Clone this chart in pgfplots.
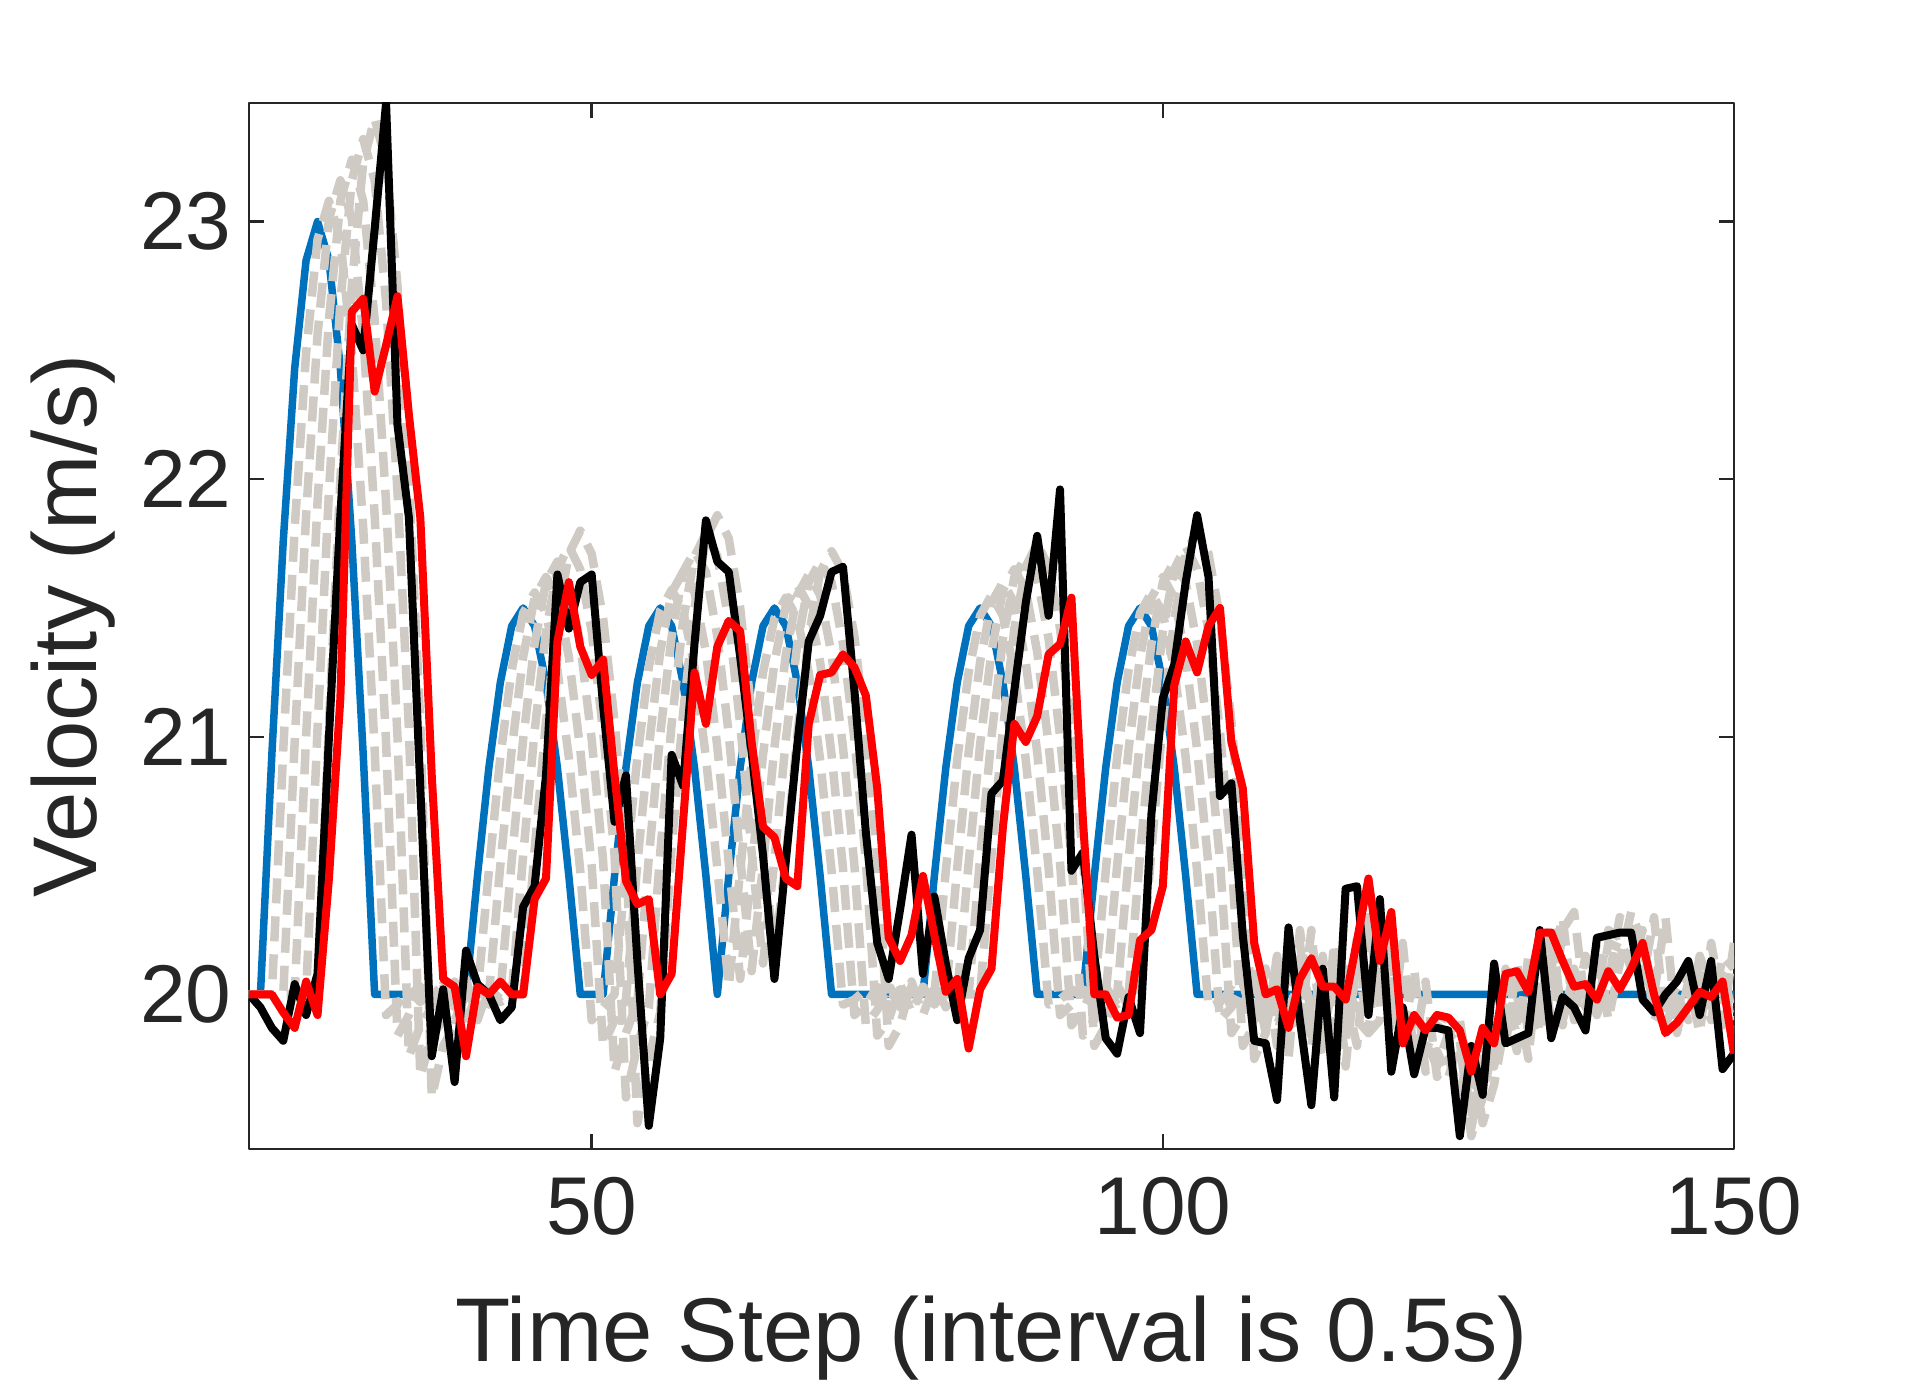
\documentclass[border=0pt]{standalone}
\usepackage{fontspec}
\setmainfont{Liberation Sans}
\usepackage{pgfplots}
\usepackage{pgfplotstable}
\pgfplotsset{compat=1.18}
\definecolor{mblue}{RGB}{0,114,189}
\definecolor{mgrey}{RGB}{207,203,196}
\definecolor{axgray}{RGB}{38,38,38}
\pgfplotstableread{
x bl bk rd g1 g2 g3 g4 g5
20 20.00 20.00 20.00 20.00 20.00 20.00 20.00 20.00
21 20.00 19.95 20.00 20.00 20.00 20.00 20.00 20.00
22 20.93 19.87 20.00 20.00 20.00 20.00 20.00 20.00
23 21.76 19.82 19.93 20.95 20.00 20.00 20.00 20.00
24 22.43 20.04 19.87 21.81 20.98 20.00 20.00 20.00
25 22.85 19.92 20.05 22.49 21.86 21.00 20.00 20.00
26 23.00 20.08 19.92 22.93 22.56 21.91 21.03 20.00
27 22.85 21.00 20.45 23.08 23.01 22.62 21.95 21.05
28 22.43 21.86 21.15 22.93 23.16 23.08 22.69 22.00
29 21.76 22.60 22.65 22.49 23.01 23.24 23.16 22.75
30 20.93 22.50 22.70 21.81 22.56 23.08 23.32 23.23
31 20.00 22.97 22.34 20.95 21.86 22.62 23.16 23.40
32 20.00 23.46 22.52 19.92 20.98 21.91 22.69 23.23
33 20.00 22.21 22.71 19.96 19.84 21.00 21.95 22.75
34 20.00 21.85 22.25 20.02 19.92 19.76 21.03 22.00
35 20.00 20.80 21.85 19.97 20.03 19.88 19.68 21.05
36 20.00 19.76 20.85 20.03 19.96 19.95 19.84 19.60
37 20.00 20.02 20.06 19.98 20.02 20.04 19.90 19.80
38 20.00 19.66 20.03 20.01 19.95 19.90 20.05 19.88
39 20.00 20.17 19.76 19.99 20.01 20.00 19.88 20.06
40 20.46 20.04 20.03 20.00 20.00 20.02 20.02 19.90
41 20.88 20.00 20.00 20.48 20.00 19.98 19.96 20.03
42 21.21 19.90 20.05 20.92 20.50 20.00 20.01 19.97
43 21.43 19.95 20.00 21.26 20.95 20.52 20.00 20.00
44 21.50 20.34 20.00 21.48 21.31 20.99 20.54 20.00
45 21.43 20.42 20.37 21.56 21.54 21.36 21.02 20.56
46 21.21 20.85 20.45 21.48 21.62 21.60 21.41 21.06
47 20.88 21.63 21.37 21.26 21.54 21.68 21.65 21.46
48 20.46 21.42 21.60 20.92 21.31 21.60 21.74 21.71
49 20.00 21.60 21.35 20.48 20.95 21.36 21.65 21.80
50 20.00 21.63 21.24 19.90 20.50 20.99 21.41 21.71
51 20.00 21.12 21.30 19.95 19.80 20.52 21.02 21.46
52 20.46 20.67 20.85 20.00 19.90 19.70 20.54 21.06
53 20.88 20.85 20.44 20.49 19.98 19.85 19.60 20.56
54 21.21 20.13 20.35 20.92 20.51 19.97 19.80 19.50
55 21.43 19.49 20.37 21.27 20.96 20.53 19.95 19.75
56 21.50 19.83 20.00 21.49 21.33 21.01 20.55 19.93
57 21.43 20.93 20.08 21.57 21.56 21.39 21.05 20.57
58 21.21 20.81 20.67 21.49 21.64 21.64 21.45 21.09
59 20.88 21.36 21.25 21.27 21.56 21.72 21.70 21.50
60 20.46 21.84 21.05 20.92 21.33 21.64 21.79 21.77
61 20.00 21.68 21.35 20.49 20.96 21.39 21.70 21.86
62 20.46 21.64 21.45 20.03 20.51 21.01 21.45 21.77
63 20.88 21.31 21.41 20.48 20.06 20.53 21.05 21.50
64 21.21 20.94 20.98 20.91 20.49 20.09 20.55 21.09
65 21.43 20.54 20.65 21.25 20.93 20.50 20.12 20.57
66 21.50 20.06 20.61 21.46 21.29 20.96 20.52 20.15
67 21.43 20.52 20.45 21.54 21.51 21.32 20.99 20.53
68 21.21 20.97 20.42 21.46 21.59 21.55 21.36 21.01
69 20.88 21.37 21.05 21.25 21.51 21.63 21.60 21.39
70 20.46 21.47 21.24 20.91 21.29 21.55 21.68 21.64
71 20.00 21.64 21.25 20.48 20.93 21.32 21.60 21.72
72 20.00 21.66 21.32 19.96 20.49 20.96 21.36 21.64
73 20.00 21.18 21.27 19.98 19.92 20.50 20.99 21.39
74 20.00 20.63 21.16 20.02 19.96 19.88 20.52 21.01
75 20.00 20.20 20.80 19.99 20.03 19.94 19.84 20.53
76 20.00 20.06 20.22 20.03 19.97 20.04 19.90 19.80
77 20.00 20.33 20.13 19.98 20.02 19.95 20.04 19.88
78 20.00 20.62 20.23 20.01 19.98 20.03 19.93 20.05
79 20.00 20.08 20.46 20.00 20.01 19.97 20.03 19.92
80 20.46 20.38 20.23 20.00 20.00 20.02 19.96 20.04
81 20.88 20.12 20.01 20.48 20.00 20.00 20.02 19.95
82 21.21 19.90 20.06 20.91 20.49 20.00 20.00 20.03
83 21.43 20.14 19.79 21.25 20.94 20.51 20.00 20.00
84 21.50 20.25 20.02 21.47 21.29 20.97 20.53 20.00
85 21.43 20.78 20.10 21.55 21.52 21.33 21.00 20.54
86 21.21 20.83 20.65 21.47 21.60 21.57 21.38 21.03
87 20.88 21.18 21.05 21.25 21.52 21.65 21.62 21.42
88 20.46 21.52 20.98 20.91 21.29 21.57 21.70 21.66
89 20.00 21.78 21.08 20.48 20.94 21.33 21.62 21.75
90 20.00 21.47 21.32 19.96 20.49 20.97 21.38 21.66
91 20.00 21.96 21.36 19.98 19.92 20.51 21.00 21.42
92 20.00 20.48 21.54 20.02 19.96 19.88 20.53 21.03
93 20.00 20.55 20.68 19.99 20.02 19.94 19.84 20.54
94 20.46 20.15 20.00 20.00 19.98 20.03 19.90 19.80
95 20.88 19.83 20.00 20.48 20.00 19.98 20.03 19.88
96 21.21 19.77 19.91 20.92 20.50 20.00 19.96 20.04
97 21.43 19.99 19.92 21.26 20.95 20.52 20.00 19.95
98 21.50 19.85 20.21 21.48 21.31 20.99 20.54 20.00
99 21.43 20.70 20.25 21.56 21.54 21.36 21.02 20.56
100 21.21 21.15 20.42 21.48 21.62 21.60 21.41 21.06
101 20.88 21.28 21.20 21.26 21.54 21.68 21.65 21.46
102 20.46 21.60 21.37 20.92 21.31 21.60 21.74 21.71
103 20.00 21.86 21.25 20.48 20.95 21.36 21.65 21.80
104 20.00 21.62 21.43 19.95 20.50 20.99 21.41 21.71
105 20.00 20.77 21.50 19.97 19.90 20.52 21.02 21.46
106 20.00 20.82 20.98 20.02 19.95 19.85 20.54 21.06
107 20.00 20.23 20.80 19.96 20.04 19.92 19.80 20.56
108 20.00 19.82 20.20 20.05 19.90 20.08 19.88 19.75
109 20.00 19.81 20.00 19.93 20.10 19.85 20.10 19.85
110 20.00 19.59 20.02 20.08 19.88 20.15 19.80 20.15
111 20.00 20.26 19.87 19.90 20.02 19.92 20.20 19.75
112 20.00 19.90 20.06 20.12 20.20 19.85 19.95 20.25
113 20.00 19.57 20.14 19.95 19.82 20.25 19.80 19.90
114 20.00 20.10 20.03 19.85 20.00 19.78 20.15 19.75
115 20.00 19.60 20.03 20.05 20.12 20.05 19.75 20.20
116 20.00 20.41 19.98 19.88 19.82 20.00 20.10 19.72
117 20.00 20.42 20.21 20.18 20.22 19.80 19.90 20.15
118 20.00 19.92 20.45 20.20 20.30 20.28 19.85 19.85
119 20.00 20.37 20.13 19.98 19.95 20.15 20.30 19.90
120 20.00 19.70 20.32 20.15 20.25 19.85 20.05 20.25
121 20.00 19.95 19.81 19.86 19.80 20.20 19.80 19.95
122 20.00 19.69 19.92 19.95 19.90 19.75 20.10 19.78
123 20.00 19.87 19.86 19.83 19.78 19.82 19.70 20.05
124 20.00 19.87 19.92 19.92 19.88 19.72 19.78 19.68
125 20.00 19.86 19.91 19.90 19.85 19.85 19.68 19.75
126 20.00 19.45 19.86 19.90 19.83 19.80 19.82 19.62
127 20.00 19.80 19.70 19.62 19.52 19.48 19.45 19.80
128 20.00 19.61 19.87 19.85 19.80 19.70 19.60 19.50
129 20.00 20.12 19.81 19.75 19.72 19.90 19.82 19.65
130 20.00 19.81 20.08 20.05 20.10 19.80 19.95 19.90
131 20.00 19.83 20.09 19.90 19.88 20.12 19.78 20.00
132 20.00 19.85 20.01 19.92 19.90 19.85 20.15 19.75
133 20.00 20.25 20.24 19.95 19.93 19.90 19.85 20.18
134 20.00 19.83 20.24 20.15 20.20 20.28 20.10 19.90
135 20.00 19.99 20.13 19.92 19.90 19.88 20.30 20.25
136 20.00 19.95 20.03 20.02 20.05 20.10 19.90 20.32
137 20.00 19.86 20.04 20.00 20.02 19.95 20.15 19.95
138 20.00 20.22 19.98 19.95 19.92 20.00 19.92 20.20
139 20.00 20.23 20.09 20.12 20.20 20.25 20.05 19.90
140 20.00 20.24 20.02 20.14 20.18 20.22 20.30 20.12
141 20.00 20.24 20.10 20.16 20.20 20.10 20.25 20.32
142 20.00 19.98 20.20 20.12 20.18 20.25 20.05 20.20
143 20.00 19.93 20.00 19.98 19.95 19.90 20.30 20.00
144 20.00 20.00 19.85 19.96 19.95 19.98 19.88 20.30
145 20.00 20.05 19.89 20.03 20.00 19.92 20.00 19.85
146 20.00 20.13 19.95 20.06 20.08 20.12 19.90 20.05
147 20.00 19.92 20.01 20.08 20.10 20.05 20.15 19.85
148 20.00 20.13 19.99 19.98 19.95 19.90 20.02 20.20
149 20.00 19.71 20.05 20.06 20.10 20.15 19.88 19.95
150 20.00 19.77 19.77 19.85 19.90 20.10 20.20 20.15
}\data
\begin{document}
\begin{tikzpicture}
\useasboundingbox (-49.8pt,-46.4pt) rectangle (333.4pt,229.8pt);
\begin{axis}[
  at={(0,0)}, anchor=south west,
  scale only axis, width=297pt, height=209.2pt,
  xmin=20, xmax=150, ymin=19.4, ymax=23.46,
  xtick={50,100,150}, ytick={20,21,22,23},
  tick align=inside, major tick length=3pt,
  axis line style={axgray, line width=0.5pt},
  tick style={axgray, line width=0.5pt},
  /pgf/number format/assume math mode=true,
  every tick label/.append style={font=\fontsize{16.4}{18}\selectfont, text=axgray},
  xticklabel style={yshift=-2.1pt},
  xlabel={Time Step (interval is 0.5s)},
  ylabel={Velocity (m/s)},
  label style={font=\fontsize{18.1}{20}\selectfont, text=axgray},
  xlabel style={at={(axis description cs:0.5,-0.2036)}, anchor=base},
  ylabel style={at={(axis description cs:-0.1024,0.5)}, anchor=base},
  line join=round,
]
\addplot[mblue, line width=1.5pt] table[x=x,y=bl]{\data};
\addplot[mgrey, line width=1.7pt, dash pattern=on 5pt off 2.6pt] table[x=x,y=g1]{\data};
\addplot[mgrey, line width=1.7pt, dash pattern=on 5pt off 2.6pt] table[x=x,y=g2]{\data};
\addplot[mgrey, line width=1.7pt, dash pattern=on 5pt off 2.6pt] table[x=x,y=g3]{\data};
\addplot[mgrey, line width=1.7pt, dash pattern=on 5pt off 2.6pt] table[x=x,y=g4]{\data};
\addplot[mgrey, line width=1.7pt, dash pattern=on 5pt off 2.6pt] table[x=x,y=g5]{\data};
\addplot[black, line width=1.6pt] table[x=x,y=bk]{\data};
\addplot[red, line width=1.6pt] table[x=x,y=rd]{\data};
\end{axis}
\end{tikzpicture}
\end{document}
